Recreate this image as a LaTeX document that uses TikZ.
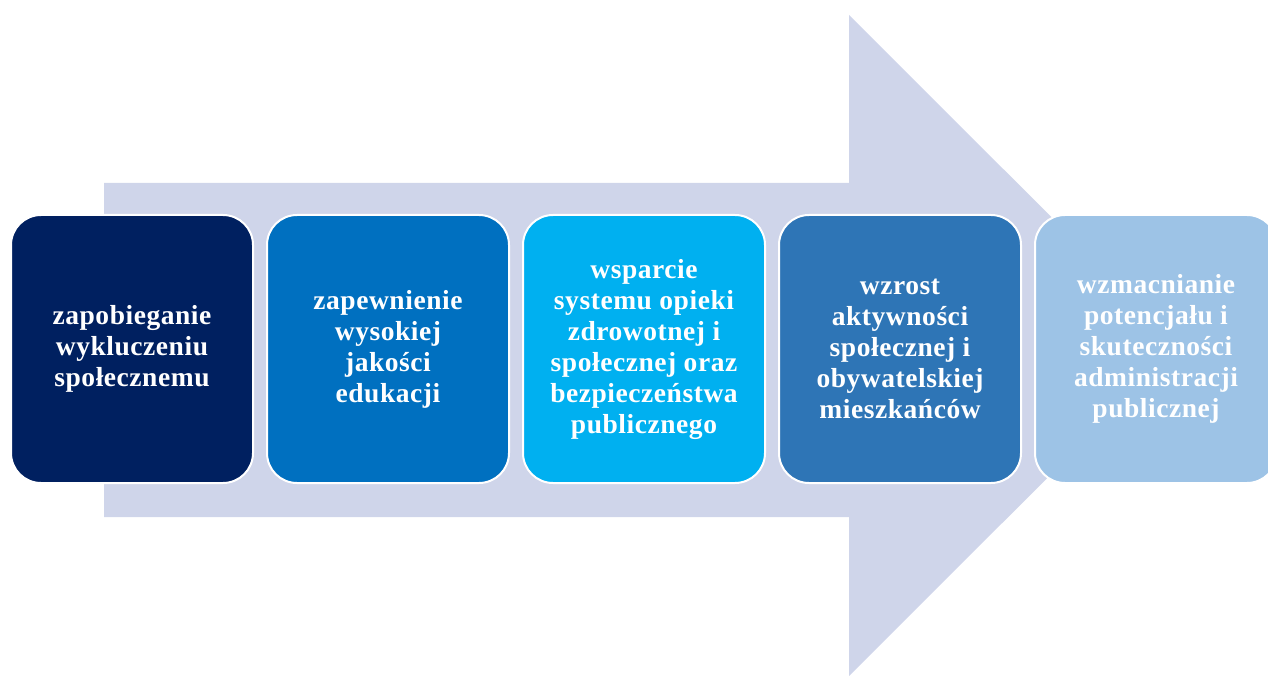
\documentclass[tikz,border=0pt]{standalone}
\usepackage{fontspec}
\setmainfont{Liberation Serif}
\newfontfamily\boxfont[LetterSpace=2]{Liberation Serif}
\definecolor{arrowc}{HTML}{CFD5EA}
\definecolor{c1}{HTML}{002060}
\definecolor{c2}{HTML}{0070C0}
\definecolor{c3}{HTML}{00B0F0}
\definecolor{c4}{HTML}{2E75B6}
\definecolor{c5}{HTML}{9DC3E6}
\tikzset{
  stagebox/.style={draw=white, line width=2pt, rounded corners=30pt,
    minimum width=242pt, minimum height=268pt, inner sep=4pt,
    text=white, align=center,
    font=\boxfont\fontsize{27.5}{31}\selectfont\bfseries},
}
\begin{document}
\begin{tikzpicture}[x=1pt,y=-1pt]
\useasboundingbox (0,0) rectangle (1268,676);
\clip (0,0) rectangle (1268,676);
\fill[arrowc] (104,183) -- (849,183) -- (849,15) -- (1180,345.5) -- (849,676) -- (849,517) -- (104,517) -- cycle;
\node[stagebox, fill=c1] (s1) at (132,349) {zapobieganie\\wykluczeniu\\społecznemu};
\node[stagebox, fill=c2] (s2) at (388,349) {zapewnienie\\wysokiej\\jakości\\edukacji};
\node[stagebox, fill=c3] (s3) at (644,349) {wsparcie\\systemu opieki\\zdrowotnej i\\społecznej oraz\\bezpieczeństwa\\publicznego};
\node[stagebox, fill=c4] (s4) at (900,349) {wzrost\\aktywności\\społecznej i\\obywatelskiej\\mieszkańców};
\node[stagebox, fill=c5] (s5) at (1156,349) {wzmacnianie\\potencjału i\\skuteczności\\administracji\\publicznej};
\end{tikzpicture}
\end{document}
